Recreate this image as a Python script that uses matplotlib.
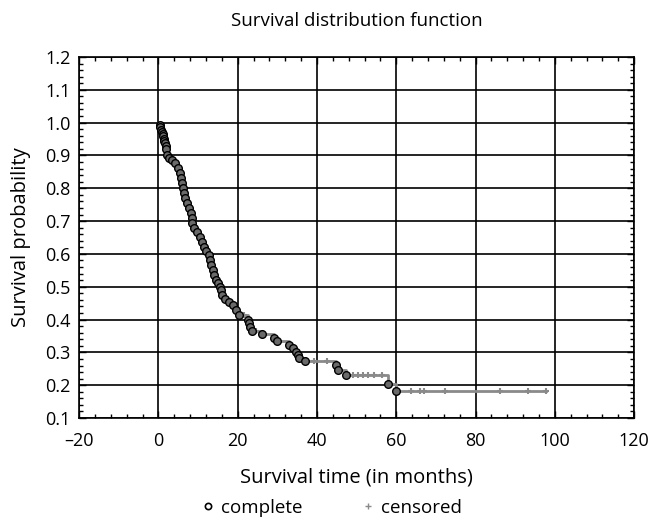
import matplotlib.pyplot as plt
from matplotlib.lines import Line2D
from matplotlib.ticker import MultipleLocator

plt.rcParams['font.family'] = ['Open Sans', 'DejaVu Sans']

# event times (months) and survival at each event
event_t = [0.3, 0.5, 0.7, 0.9, 1.1, 1.2, 1.4, 1.5, 1.7, 1.8, 2.0, 2.2, 2.6, 3.5, 4.3,
           4.9, 5.4, 5.7, 6.0, 6.2, 6.4, 6.8, 7.3, 7.7, 8.1, 8.4, 8.5, 8.9, 9.8,
           10.5, 11.1, 11.5, 11.9, 12.7, 13.0, 13.3, 13.8, 14.0, 14.4, 14.9, 15.5,
           15.9, 16.1, 16.7, 17.8, 18.7, 19.5, 20.3, 22.7, 22.9, 23.1, 23.5, 26.1,
           29.2, 29.8, 33.0, 34.0, 34.7, 35.1, 35.5, 37.0, 44.8, 45.2, 47.3, 57.9, 59.9]
event_s = [0.993, 0.986, 0.979, 0.972, 0.965, 0.958, 0.951, 0.944, 0.937, 0.930, 0.921,
           0.902, 0.891, 0.886, 0.876, 0.861, 0.846, 0.830, 0.815, 0.800, 0.785, 0.770,
           0.754, 0.739, 0.724, 0.709, 0.693, 0.678, 0.668, 0.652, 0.637, 0.622, 0.609,
           0.597, 0.581, 0.566, 0.551, 0.536, 0.520, 0.510, 0.500, 0.490, 0.475, 0.462,
           0.454, 0.444, 0.429, 0.414, 0.398, 0.388, 0.378, 0.365, 0.355, 0.345, 0.334,
           0.324, 0.314, 0.302, 0.292, 0.282, 0.273, 0.261, 0.246, 0.232, 0.205, 0.183]

# censored observations
cens_t = [21.5, 24.5, 39.3, 42.4, 49.0, 50.3, 51.6, 52.8, 54.5, 56.5,
          63.8, 65.9, 67.0, 72.4, 86.2, 93.3, 97.8]
cens_s = [0.414, 0.365, 0.273, 0.273, 0.232, 0.232, 0.232, 0.232, 0.232, 0.232,
          0.183, 0.183, 0.183, 0.183, 0.183, 0.183, 0.183]

x_ticks = [-20, 0, 20, 40, 60, 80, 100, 120]
x_labels = ['\u201320', '0', '20', '40', '60', '80', '100', '120']
y_ticks = [0.1, 0.2, 0.3, 0.4, 0.5, 0.6, 0.7, 0.8, 0.9, 1.0, 1.1, 1.2]

# step curve through events and up to the last censored time
step_t = [0.0] + event_t + [cens_t[-1]]
step_s = [1.0] + event_s + [event_s[-1]]

fig = plt.figure(figsize=(6.49, 5.18), dpi=100)
ax = fig.add_axes([0.122, 0.193, 0.855, 0.697])

ax.step(step_t, step_s, where='post', color='#8a8a8a', lw=2.0, zorder=3)
ax.plot(cens_t, cens_s, ls='none', marker='+', ms=5, mew=1.5, color='#8a8a8a', zorder=4)
ax.plot(event_t, event_s, ls='none', marker='o', ms=5.5, mfc='#6a6a6a', mec='black',
        mew=1.0, zorder=5)

ax.set_xlim(-20, 120)
ax.set_ylim(0.1, 1.2)
ax.set_xticks(x_ticks)
ax.set_xticklabels(x_labels)
ax.set_yticks(y_ticks)
ax.set_yticklabels(['%.1f' % v for v in y_ticks])
ax.xaxis.set_minor_locator(MultipleLocator(4))
ax.yaxis.set_minor_locator(MultipleLocator(0.02))

ax.tick_params(which='both', direction='in', top=True, right=True, labelsize=13,
               width=1.0, color='black')
ax.tick_params(which='major', length=5)
ax.tick_params(axis='x', which='major', pad=10)
ax.tick_params(axis='y', which='major', pad=6)
ax.tick_params(which='minor', length=3)
ax.grid(True, which='major', color='black', lw=1.2, zorder=1)
for s in ax.spines.values():
    s.set_linewidth(1.2)

ax.set_title('Survival distribution function', fontsize=13.5, pad=22)
ax.set_xlabel('Survival time (in months)', fontsize=14.5, labelpad=13)
ax.set_ylabel('Survival probability', fontsize=14.5, labelpad=10)

handles = [Line2D([], [], ls='none', marker='o', ms=4.5, mfc='white', mec='black', mew=1.2),
           Line2D([], [], ls='none', marker='+', ms=4, mew=1.0, color='#8a8a8a')]
fig.legend(handles, ['complete', 'censored'], loc='lower center', ncol=2,
           bbox_to_anchor=(0.512, -0.03), frameon=False, fontsize=13.5,
           handlelength=0.6, handletextpad=0.4, columnspacing=3.2)

fig.savefig('out.png', dpi=100)
